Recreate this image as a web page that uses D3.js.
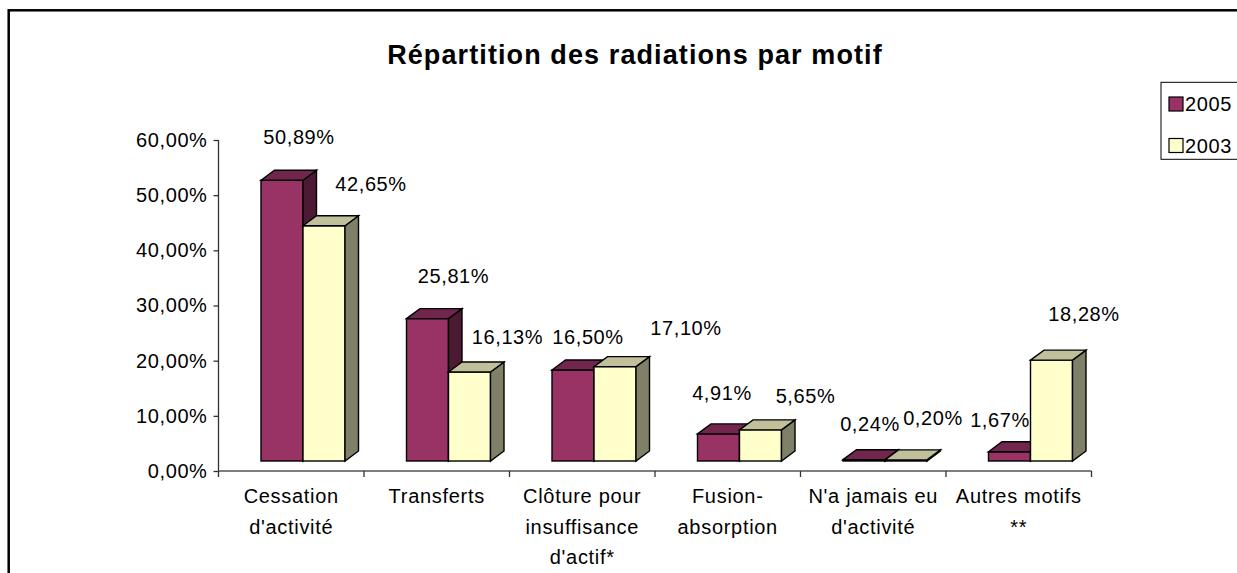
<!DOCTYPE html>
<html>
<head>
<meta charset="utf-8">
<script src="https://cdn.jsdelivr.net/npm/d3@7"></script>
<style>
  html, body { margin: 0; padding: 0; background: #fff; }
  svg { display: block; font-family: "Liberation Sans", Arial, sans-serif; }
</style>
</head>
<body>
<svg id="chart" width="1237" height="573"></svg>
<script>
// ---- data ----
const title = "Répartition des radiations par motif";
const categories = [
  ["Cessation", "d'activité"],
  ["Transferts"],
  ["Clôture pour", "insuffisance", "d'actif*"],
  ["Fusion-", "absorption"],
  ["N'a jamais eu", "d'activité"],
  ["Autres motifs", "**"]
];
const seriesNames = ["2005", "2003"];
const values2005 = [50.89, 25.81, 16.50, 4.91, 0.24, 1.67];
const values2003 = [42.65, 16.13, 17.10, 5.65, 0.20, 18.28];
const yTicks = [0, 10, 20, 30, 40, 50, 60];

// ---- layout / style (not data) ----
const labelDx2005 = [17, 26, 15, 3.5, 6, -9.5];
const labelDy2005 = [-43, -43, -33, -41, -36, -32];
const labelDx2003 = [47, 38, 71, 45, 27, 32.5];
const labelDy2003 = [-42, -35, -39, -34, -42, -46];

const colors = {
  "2005": { front: "#993366", top: "#73264d", side: "#4d1a33" },
  "2003": { front: "#ffffcc", top: "#c0c09a", side: "#808068" }
};
const depthX = 13.5, depthY = -10, floorLift = 10;

const svg = d3.select("#chart");
const fmt = v => d3.format(".2f")(v).replace(".", ",") + "%";

// frame
svg.append("rect").attr("x", 8.7).attr("y", 10.3).attr("width", 1400).attr("height", 800)
  .attr("fill", "none").attr("stroke", "#000").attr("stroke-width", 2.5);

// title
svg.append("text").attr("x", 635).attr("y", 64).attr("text-anchor", "middle")
  .attr("font-size", 27).attr("font-weight", "bold").attr("letter-spacing", 1.1)
  .attr("fill", "#000").text(title);

const x = d3.scaleBand().domain(d3.range(categories.length)).range([218.5, 1091.5]).padding(0);
const y = d3.scaleLinear().domain([0, 60]).range([471, 140]);
const xs = d3.scaleBand().domain(seriesNames).range([0, 84]).padding(0);
const clusterOffset = 42.5;

// y axis
const yAxis = svg.append("g").attr("transform", "translate(218.5,0)")
  .call(d3.axisLeft(y).tickValues(yTicks).tickSize(5).tickPadding(6)
    .tickFormat(d => d3.format(".2f")(d).replace(".", ",") + "%"));
yAxis.select(".domain").attr("stroke", "#333").attr("stroke-width", 1.3).attr("d", "M0," + y(60) + "V" + y(0));
yAxis.selectAll(".tick line").attr("stroke", "#333").attr("stroke-width", 1.3);
yAxis.selectAll(".tick text").attr("font-size", 20).attr("letter-spacing", 0.6)
  .attr("fill", "#000").attr("font-family", "Liberation Sans, Arial, sans-serif");

// x axis line + ticks at boundaries
const xAxisG = svg.append("g");
xAxisG.append("line").attr("x1", x.range()[0]).attr("x2", x.range()[1])
  .attr("y1", y(0)).attr("y2", y(0)).attr("stroke", "#555").attr("stroke-width", 1.6);
const bounds = d3.range(categories.length + 1).map(i => i < categories.length ? x(i) : x.range()[1]);
xAxisG.selectAll("line.tk").data(bounds).join("line").attr("class", "tk")
  .attr("x1", d => d).attr("x2", d => d).attr("y1", y(0)).attr("y2", y(0) + 6)
  .attr("stroke", "#333").attr("stroke-width", 1.3);

// category labels
const catG = svg.append("g");
categories.forEach((lines, i) => {
  const t = catG.append("text").attr("text-anchor", "middle").attr("font-size", 20)
    .attr("letter-spacing", 0.7).attr("fill", "#000");
  lines.forEach((ln, j) => {
    t.append("tspan").attr("x", x(i) + x.bandwidth() / 2).attr("y", 503 + j * 30.5).text(ln);
  });
});

// bars
const seriesData = [
  { name: "2005", values: values2005, ldx: labelDx2005, ldy: labelDy2005 },
  { name: "2003", values: values2003, ldx: labelDx2003, ldy: labelDy2003 }
];
const barsG = svg.append("g");
const w = xs.bandwidth();
categories.forEach((c, i) => {
  seriesData.forEach(s => {
    const v = s.values[i];
    const x0 = x(i) + clusterOffset + xs(s.name);
    const yb = y(0) - floorLift;
    const yt = y(v) - floorLift;
    const col = colors[s.name];
    const g = barsG.append("g").attr("stroke", "#000").attr("stroke-width", 1.4).attr("stroke-linejoin", "miter");
    // front
    g.append("rect").attr("x", x0).attr("y", yt).attr("width", w).attr("height", Math.max(0, yb - yt))
      .attr("fill", col.front);
    // side
    g.append("path").attr("fill", col.side)
      .attr("d", `M${x0 + w},${yt}L${x0 + w + depthX},${yt + depthY}L${x0 + w + depthX},${yb + depthY}L${x0 + w},${yb}Z`);
    // top
    g.append("path").attr("fill", col.top)
      .attr("d", `M${x0},${yt}L${x0 + depthX},${yt + depthY}L${x0 + w + depthX},${yt + depthY}L${x0 + w},${yt}Z`);
  });
});

// data labels
const lblG = svg.append("g");
categories.forEach((c, i) => {
  seriesData.forEach(s => {
    const v = s.values[i];
    const cx = x(i) + clusterOffset + xs(s.name) + w / 2 + s.ldx[i];
    const cy = y(v) - floorLift + s.ldy[i];
    lblG.append("text").attr("x", cx).attr("y", cy + 7).attr("text-anchor", "middle")
      .attr("font-size", 20).attr("letter-spacing", 0.6).attr("fill", "#000").text(fmt(v));
  });
});

// legend
const lg = svg.append("g");
lg.append("rect").attr("x", 1161).attr("y", 82.3).attr("width", 200).attr("height", 77)
  .attr("fill", "#fff").attr("stroke", "#000").attr("stroke-width", 1);
seriesNames.forEach((n, k) => {
  const yy = 97 + k * 41.5;
  lg.append("rect").attr("x", 1169).attr("y", yy).attr("width", 14).attr("height", 14)
    .attr("fill", colors[n].front).attr("stroke", "#000").attr("stroke-width", 1.2);
  lg.append("text").attr("x", 1185).attr("y", yy + 14).attr("font-size", 20)
    .attr("letter-spacing", 0.6).attr("fill", "#000").text(n);
});
</script>
</body>
</html>
